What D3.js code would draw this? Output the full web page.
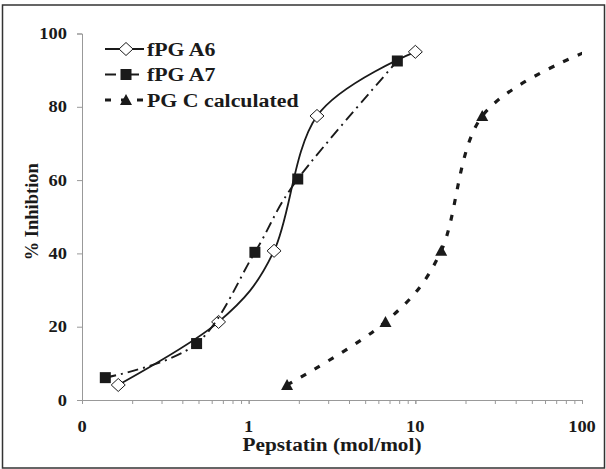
<!DOCTYPE html>
<html>
<head>
<meta charset="utf-8">
<script src="https://cdn.jsdelivr.net/npm/d3@7"></script>
<style>
body { margin: 0; background: #fff; }
text { font-family: "Liberation Serif", "Times New Roman", serif; font-weight: bold; fill: #1a1a1a; }
</style>
</head>
<body>
<div id="chart"></div>
<script>
// values
var seriesNames = ["fPG A6", "fPG A7", "PG C calculated"];
var a6X = [0.165, 0.66, 1.42, 2.57, 10];
var a6Y = [4.1, 21.3, 40.7, 77.5, 95.0];
var a7X = [0.138, 0.487, 1.09, 1.97, 7.8];
var a7Y = [6.1, 15.4, 40.3, 60.3, 92.5];
var pgcX = [1.70, 6.62, 14.3, 25.2, 112];
var pgcY = [4.1, 21.3, 40.7, 77.5, 95.5];
var yTicks = [0, 20, 40, 60, 80, 100];
var xTicks = [0.1, 1, 10, 100];
var xTickLabels = ["0", "1", "10", "100"];

var W = 606, H = 469;
var margin = { top: 33.5, right: 24, bottom: 69, left: 82 };
var width = W - margin.left - margin.right,
	height = H - margin.top - margin.bottom;
var stretch = 1.12; // the text in the picture is a bit wide

var svg = d3.select("#chart").append("svg")
	.attr("width", W)
	.attr("height", H);

// outer frame
svg.append("rect")
	.attr("x", 2.5).attr("y", 5)
	.attr("width", 602).attr("height", 463)
	.attr("fill", "none").attr("stroke", "#333").attr("stroke-width", 1.5);

var g = svg.append("g").attr("transform", "translate(" + margin.left + "," + margin.top + ")");

var x = d3.scaleLog().domain([0.1, 100]).range([0, width]);
var y = d3.scaleLinear().domain([0, 100]).range([height, 0]);

g.append("clipPath").attr("id", "plotclip")
	.append("rect").attr("x", -10).attr("y", -10).attr("width", width + 10).attr("height", height + 20);

function wideText(parent, px, py, anchor, size, str){
	return parent.append("g")
		.attr("transform", "translate(" + px + "," + py + ") scale(" + stretch + ",1)")
		.append("text")
		.style("text-anchor", anchor)
		.style("font-size", size + "px")
		.text(str);
}

// y axis
var yAxis = g.append("g")
	.call(d3.axisLeft(y).tickValues(yTicks).tickSize(5).tickFormat(""));
yAxis.select(".domain").attr("stroke", "#999");
yAxis.selectAll(".tick line").attr("stroke", "#999");
yTicks.forEach(function(d){
	wideText(g, -15, y(d) + 5.5, "end", 16.5, d);
});

// x axis, minor ticks included
var minor = [];
[0.1, 1, 10].forEach(function(d){ for (var k = 1; k <= 10; k++) minor.push(d * k); });
var xAxis = g.append("g").attr("transform", "translate(0," + height + ")")
	.call(d3.axisBottom(x).tickValues(minor).tickSize(4).tickSizeOuter(0).tickFormat(""));
xAxis.select(".domain").attr("stroke", "#999");
xAxis.selectAll(".tick line").attr("stroke", "#999");

xTicks.forEach(function(d, i){
	wideText(g, x(d), height + 31.5, "middle", 16.5, xTickLabels[i]);
});

// axis titles
wideText(g, width / 2, height + 50.5, "middle", 19, "Pepstatin (mol/mol)");
g.append("text")
	.attr("transform", "translate(" + (-44) + "," + (height / 2 - 5) + ") rotate(-90)")
	.style("text-anchor", "middle").style("font-size", "18.5px")
	.text("% Inhibtion");

var line = d3.line()
	.x(function(d){ return x(d[0]); })
	.y(function(d){ return y(d[1]); })
	.curve(d3.curveCardinal.tension(0));

var series = [
	{ xs: a6X, ys: a6Y, dash: null, width: 1.8, marker: "diamond" },
	{ xs: a7X, ys: a7Y, dash: "11,5,2,5", width: 1.9, marker: "square" },
	{ xs: pgcX, ys: pgcY, dash: "6,10", width: 3.2, marker: "triangle" }
];

function drawMarker(sel, type){
	if (type == "diamond") {
		sel.append("path").attr("d", "M0,-6.5L7,0L0,6.5L-7,0Z")
			.attr("fill", "#fff").attr("stroke", "#1a1a1a").attr("stroke-width", 1);
	} else if (type == "square") {
		sel.append("rect").attr("x", -5.5).attr("y", -5.5).attr("width", 11).attr("height", 11)
			.attr("fill", "#1a1a1a");
	} else {
		sel.append("path").attr("d", "M0,-6L6,5L-6,5Z").attr("fill", "#1a1a1a");
	}
}

var plot = g.append("g").attr("clip-path", "url(#plotclip)");
series.forEach(function(s){
	var pts = s.xs.map(function(d, i){ return [d, s.ys[i]]; });
	plot.append("path")
		.datum(pts)
		.attr("d", line)
		.attr("fill", "none")
		.attr("stroke", "#1a1a1a")
		.attr("stroke-width", s.width)
		.attr("stroke-dasharray", s.dash);
	plot.selectAll(".m" + s.marker)
		.data(pts.filter(function(d){ return d[0] <= 100; }))
		.enter().append("g")
		.attr("class", "m" + s.marker)
		.attr("transform", function(d){ return "translate(" + x(d[0]) + "," + y(d[1]) + ")"; })
		.each(function(){ drawMarker(d3.select(this), s.marker); });
});

// legend
var legend = svg.append("g").attr("transform", "translate(105,49)");
seriesNames.forEach(function(name, i){
	var row = legend.append("g").attr("transform", "translate(0," + (i * 25.5) + ")");
	row.append("line")
		.attr("x1", 0).attr("x2", 39).attr("y1", 0).attr("y2", 0)
		.attr("stroke", "#1a1a1a")
		.attr("stroke-width", series[i].width)
		.attr("stroke-dasharray", series[i].dash);
	var m = row.append("g").attr("transform", "translate(21,0)");
	drawMarker(m, series[i].marker);
	wideText(row, 42, 6.5, "start", 19.5, name);
});
</script>
</body>
</html>
